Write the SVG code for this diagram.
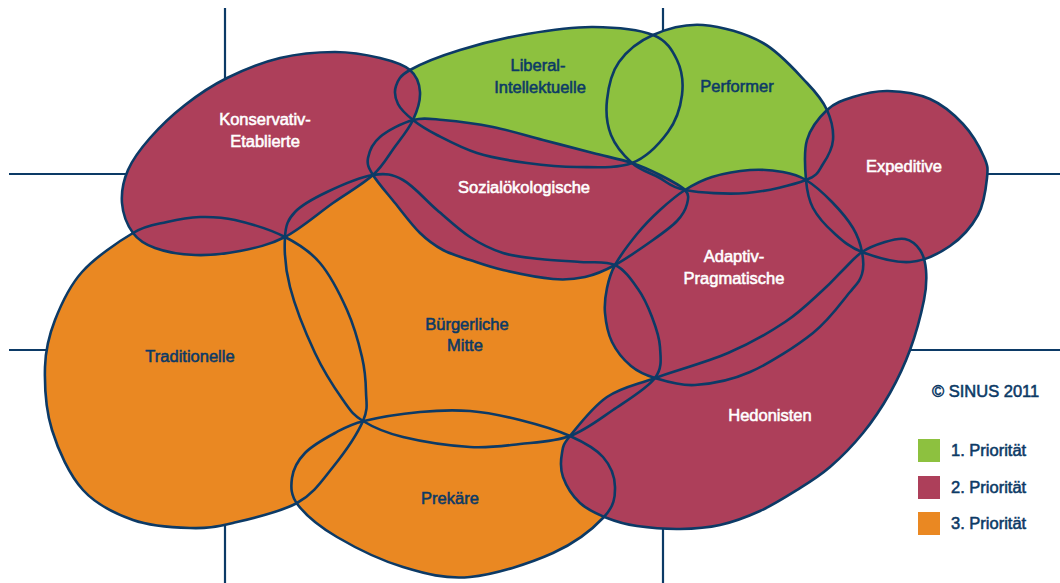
<svg xmlns="http://www.w3.org/2000/svg" xmlns:xlink="http://www.w3.org/1999/xlink" width="1060" height="583" viewBox="0 0 1060 583">
<style>
.grid{stroke:#0c3a66;stroke-width:2.2;fill:none}
.g{fill:#8dc13f}
.r{fill:#ad3f5a}
.o{fill:#ea8822}
.outline{fill:none;stroke:#0c3a66;stroke-width:2.6;stroke-linejoin:round}
text{font-family:"Liberation Sans",Arial,sans-serif;font-size:16.5px;stroke-width:0.55}
.lw{fill:#ffffff;stroke:#ffffff;text-anchor:middle}
.ld{fill:#0c3a66;stroke:#0c3a66;text-anchor:middle}
.leg{fill:#0c3a66;stroke:#0c3a66}
</style>
<defs>
<path id="p-li" d="M410,70 C420.7,64 440.5,56 460,50 C479.5,44 504.8,37.8 527,34 C549.2,30.2 572,26.8 593,27 C614,27.2 639,29.5 653,35 C667,40.5 672.2,50 677,60 C681.8,70 683.5,83 682,95 C680.5,107 676.3,120.7 668,132 C659.7,143.3 647.2,157.2 632,163 C616.8,168.8 594.5,167 577,167 C559.5,167 543.7,165.3 527,163 C510.3,160.7 492,157.7 477,153 C462,148.3 447.7,140.5 437,135 C426.3,129.5 419.5,125.2 413,120 C406.5,114.8 400.8,109.7 398,104 C395.2,98.3 394,91.7 396,86 C398,80.3 399.3,76 410,70 Z"/>
<path id="p-per" d="M653,35 C667,28.8 684.7,23.7 703,25 C721.3,26.3 745.7,33.3 763,43 C780.3,52.7 796.3,71.8 807,83 C817.7,94.2 822.7,100.5 827,110 C831.3,119.5 833.7,131 833,140 C832.3,149 827.5,157.3 823,164 C818.5,170.7 818.7,175.2 806,180 C793.3,184.8 767.2,191.3 747,193 C726.8,194.7 699.8,192.7 685,190 C670.2,187.3 666.8,181.5 658,177 C649.2,172.5 639.8,170 632,163 C624.2,156 615.2,145.5 611,135 C606.8,124.5 605.7,112.2 607,100 C608.3,87.8 611.3,72.8 619,62 C626.7,51.2 639,41.2 653,35 Z"/>
<path id="p-tra" d="M133,233 C147.2,224.7 155.8,224.7 167,222 C178.2,219.3 188.7,217.3 200,217 C211.3,216.7 220.8,216.7 235,220 C249.2,223.3 270.8,229.8 285,237 C299.2,244.2 309.7,250.8 320,263 C330.3,275.2 340,294.3 347,310 C354,325.7 358.8,343.3 362,357 C365.2,370.7 365.8,381.3 366,392 C366.2,402.7 368.5,408.5 363,421 C357.5,433.5 344,453.3 333,467 C322,480.7 313.7,493.7 297,503 C280.3,512.3 250.8,518.8 233,523 C215.2,527.2 206.7,528.5 190,528 C173.3,527.5 150.8,526.3 133,520 C115.2,513.7 96.5,505 83,490 C69.5,475 58.3,450.5 52,430 C45.7,409.5 44.5,385.3 45,367 C45.5,348.7 48.8,335.8 55,320 C61.2,304.2 69,286.5 82,272 C95,257.5 118.8,241.3 133,233 Z"/>
<path id="p-bm" d="M373,175 C385.7,173 392.3,174.2 403,180 C413.7,185.8 425.8,200.5 437,210 C448.2,219.5 459,229.8 470,237 C481,244.2 491.3,249.3 503,253 C514.7,256.7 527.2,257.5 540,259 C552.8,260.5 567.5,261 580,262 C592.5,263 605.3,260.5 615,265 C624.7,269.5 631.8,280.3 638,289 C644.2,297.7 648.3,307.3 652,317 C655.7,326.7 659.5,336.8 660,347 C660.5,357.2 662.8,367.5 655,378 C647.2,388.5 627.2,400.3 613,410 C598.8,419.7 585.5,430.3 570,436 C554.5,441.7 536.7,442.2 520,444 C503.3,445.8 489.5,448.2 470,447 C450.5,445.8 420.8,441.3 403,437 C385.2,432.7 373,427.2 363,421 C353,414.8 351,411.3 343,400 C335,388.7 323.8,371.8 315,353 C306.2,334.2 295,306.3 290,287 C285,267.7 284.2,249.5 285,237 C285.8,224.5 288,219.5 295,212 C302,204.5 314,198.2 327,192 C340,185.8 360.3,177 373,175 Z"/>
<path id="p-pre" d="M364,421 C378.2,417.5 402.3,413.7 420,412 C437.7,410.3 453.3,409.7 470,411 C486.7,412.3 503.3,415.8 520,420 C536.7,424.2 556.2,429.8 570,436 C583.8,442.2 595.5,448.5 603,457 C610.5,465.5 614.8,477 615,487 C615.2,497 614.3,506 604,517 C593.7,528 575.3,543 553,553 C530.7,563 495,574.7 470,577 C445,579.3 425.2,573.7 403,567 C380.8,560.3 354.5,547.3 337,537 C319.5,526.7 305.5,514.8 298,505 C290.5,495.2 290.8,486.7 292,478 C293.2,469.3 297.8,460.5 305,453 C312.2,445.5 325.2,438.3 335,433 C344.8,427.7 349.8,424.5 364,421 Z"/>
<path id="p-ke" d="M410,70 C416.7,75.7 419.5,83.7 420,92 C420.5,100.3 417.3,110.7 413,120 C408.7,129.3 400.7,138.8 394,148 C387.3,157.2 383.2,165.8 373,175 C362.8,184.2 347.7,192.7 333,203 C318.3,213.3 300.5,229 285,237 C269.5,245 255,248 240,251 C225,254 209.2,255.5 195,255 C180.8,254.5 165.3,251.7 155,248 C144.7,244.3 138.5,240.5 133,233 C127.5,225.5 122.8,213.5 122,203 C121.2,192.5 123.3,180.8 128,170 C132.7,159.2 140.5,148.8 150,138 C159.5,127.2 172.2,115 185,105 C197.8,95 211.2,85.8 227,78 C242.8,70.2 262,62.3 280,58 C298,53.7 318.3,52 335,52 C351.7,52 367.5,55 380,58 C392.5,61 403.3,64.3 410,70 Z"/>
<path id="p-soe" d="M413,120 C423.5,117.2 429.7,118.8 443,120 C456.3,121.2 476.3,123.7 493,127 C509.7,130.3 526.3,135.7 543,140 C559.7,144.3 578.2,149.2 593,153 C607.8,156.8 620.8,159.3 632,163 C643.2,166.7 651.2,170.5 660,175 C668.8,179.5 680.5,185.2 685,190 C689.5,194.8 688.3,198.8 687,204 C685.7,209.2 682.7,215 677,221 C671.3,227 663.3,232.7 653,240 C642.7,247.3 626.3,258.8 615,265 C603.7,271.2 595.3,274.7 585,277 C574.7,279.3 566.7,280.2 553,279 C539.3,277.8 516.8,273.2 503,270 C489.2,266.8 480,263.3 470,260 C460,256.7 451.3,254.5 443,250 C434.7,245.5 428,240.8 420,233 C412,225.2 402.8,212.7 395,203 C387.2,193.3 377.5,182.5 373,175 C368.5,167.5 366.8,164.3 368,158 C369.2,151.7 372.5,143.3 380,137 C387.5,130.7 402.5,122.8 413,120 Z"/>
<path id="p-ap" d="M685,190 C693.7,184.5 701.2,180.3 712,177 C722.8,173.7 738.2,170.8 750,170 C761.8,169.2 773.7,170.3 783,172 C792.3,173.7 797.8,175 806,180 C814.2,185 824.2,194 832,202 C839.8,210 848,219.7 853,228 C858,236.3 860.5,244.3 862,252 C863.5,259.7 864,267.3 862,274 C860,280.7 858.2,282.2 850,292 C841.8,301.8 829.7,319.7 813,333 C796.3,346.3 769.7,363.3 750,372 C730.3,380.7 710.8,384 695,385 C679.2,386 665.7,381.2 655,378 C644.3,374.8 638.2,372 631,366 C623.8,360 616.3,350.8 612,342 C607.7,333.2 605.8,322 605,313 C604.2,304 605.3,296 607,288 C608.7,280 610,274 615,265 C620,256 629.5,243.2 637,234 C644.5,224.8 652,217.3 660,210 C668,202.7 676.3,195.5 685,190 Z"/>
<path id="p-exp" d="M827,110 C834.7,102.8 842.8,100.2 853,97 C863.2,93.8 875.2,90.7 888,91 C900.8,91.3 917.5,93.5 930,99 C942.5,104.5 954,114.3 963,124 C972,133.7 980,148 984,157 C988,166 988,168.3 987,178 C986,187.7 984.2,203.7 978,215 C971.8,226.3 961.3,238.2 950,246 C938.7,253.8 924.7,261 910,262 C895.3,263 874.7,256.8 862,252 C849.3,247.2 842.2,240.3 834,233 C825.8,225.7 817.7,216.8 813,208 C808.3,199.2 807,191.3 806,180 C805,168.7 803.5,151.7 807,140 C810.5,128.3 819.3,117.2 827,110 Z"/>
<path id="p-hed" d="M862,252 C869,247.3 877.8,244.2 885,242 C892.2,239.8 899.2,237.7 905,239 C910.8,240.3 916.5,244.8 920,250 C923.5,255.2 925.3,261.7 926,270 C926.7,278.3 926.7,286.7 924,300 C921.3,313.3 915.7,334.5 910,350 C904.3,365.5 897.8,379.2 890,393 C882.2,406.8 873,420.7 863,433 C853,445.3 841,457.5 830,467 C819,476.5 808.7,482.7 797,490 C785.3,497.3 772.8,505.2 760,511 C747.2,516.8 733.3,522 720,525 C706.7,528 693.8,528.8 680,529 C666.2,529.2 649.2,527.8 637,526 C624.8,524.2 616.5,521.8 607,518 C597.5,514.2 587.3,509.8 580,503 C572.7,496.2 566,485.3 563,477 C560,468.7 560.8,459.8 562,453 C563.2,446.2 562.5,445.3 570,436 C577.5,426.7 592.8,406.7 607,397 C621.2,387.3 634.8,385.3 655,378 C675.2,370.7 706.3,362.3 728,353 C749.7,343.7 769.2,332.5 785,322 C800.8,311.5 813.3,298.7 823,290 C832.7,281.3 836.5,276.3 843,270 C849.5,263.7 855,256.7 862,252 Z"/>
</defs>
<rect width="1060" height="583" fill="#ffffff"/>
<g id="grid">
<line class="grid" x1="225" y1="8" x2="225" y2="583"/>
<line class="grid" x1="663" y1="8" x2="663" y2="583"/>
<line class="grid" x1="9" y1="174" x2="1060" y2="174"/>
<line class="grid" x1="9" y1="350" x2="1060" y2="350"/>
</g>
<g id="liberal-intellektuelle">
<use class="g" xlink:href="#p-li" href="#p-li"/>
<text class="ld" x="538" y="71">Liberal-</text>
<text class="ld" x="540" y="93">Intellektuelle</text>
</g>
<g id="performer">
<use class="g" xlink:href="#p-per" href="#p-per"/>
<text class="ld" x="737" y="92">Performer</text>
</g>
<g id="traditionelle">
<use class="o" xlink:href="#p-tra" href="#p-tra"/>
<text class="ld" x="190" y="362">Traditionelle</text>
</g>
<g id="buergerliche-mitte">
<use class="o" xlink:href="#p-bm" href="#p-bm"/>
<text class="ld" x="467" y="330">Bürgerliche</text>
<text class="ld" x="465" y="351">Mitte</text>
</g>
<g id="prekaere">
<use class="o" xlink:href="#p-pre" href="#p-pre"/>
<text class="ld" x="450" y="504">Prekäre</text>
</g>
<g id="konservativ-etablierte">
<use class="r" xlink:href="#p-ke" href="#p-ke"/>
<text class="lw" x="265" y="125">Konservativ-</text>
<text class="lw" x="265" y="147">Etablierte</text>
</g>
<g id="sozialoekologische">
<use class="r" xlink:href="#p-soe" href="#p-soe"/>
<text class="lw" x="524" y="193">Sozialökologische</text>
</g>
<g id="adaptiv-pragmatische">
<use class="r" xlink:href="#p-ap" href="#p-ap"/>
<text class="lw" x="734" y="262">Adaptiv-</text>
<text class="lw" x="734" y="284">Pragmatische</text>
</g>
<g id="expeditive">
<use class="r" xlink:href="#p-exp" href="#p-exp"/>
<text class="lw" x="904" y="172">Expeditive</text>
</g>
<g id="hedonisten">
<use class="r" xlink:href="#p-hed" href="#p-hed"/>
<text class="lw" x="770" y="421">Hedonisten</text>
</g>
<g id="outlines">
<use class="outline" xlink:href="#p-li" href="#p-li"/>
<use class="outline" xlink:href="#p-per" href="#p-per"/>
<use class="outline" xlink:href="#p-tra" href="#p-tra"/>
<use class="outline" xlink:href="#p-bm" href="#p-bm"/>
<use class="outline" xlink:href="#p-pre" href="#p-pre"/>
<use class="outline" xlink:href="#p-ke" href="#p-ke"/>
<use class="outline" xlink:href="#p-soe" href="#p-soe"/>
<use class="outline" xlink:href="#p-ap" href="#p-ap"/>
<use class="outline" xlink:href="#p-exp" href="#p-exp"/>
<use class="outline" xlink:href="#p-hed" href="#p-hed"/>
</g>
<g id="legend">
<text class="leg" x="932" y="397">© SINUS 2011</text>
<rect x="918" y="439" width="22" height="23" class="g"/>
<text class="leg" x="951" y="456">1. Priorität</text>
<rect x="918" y="476" width="22" height="23" class="r"/>
<text class="leg" x="951" y="493">2. Priorität</text>
<rect x="918" y="512" width="22" height="23" class="o"/>
<text class="leg" x="951" y="529">3. Priorität</text>
</g>
</svg>
